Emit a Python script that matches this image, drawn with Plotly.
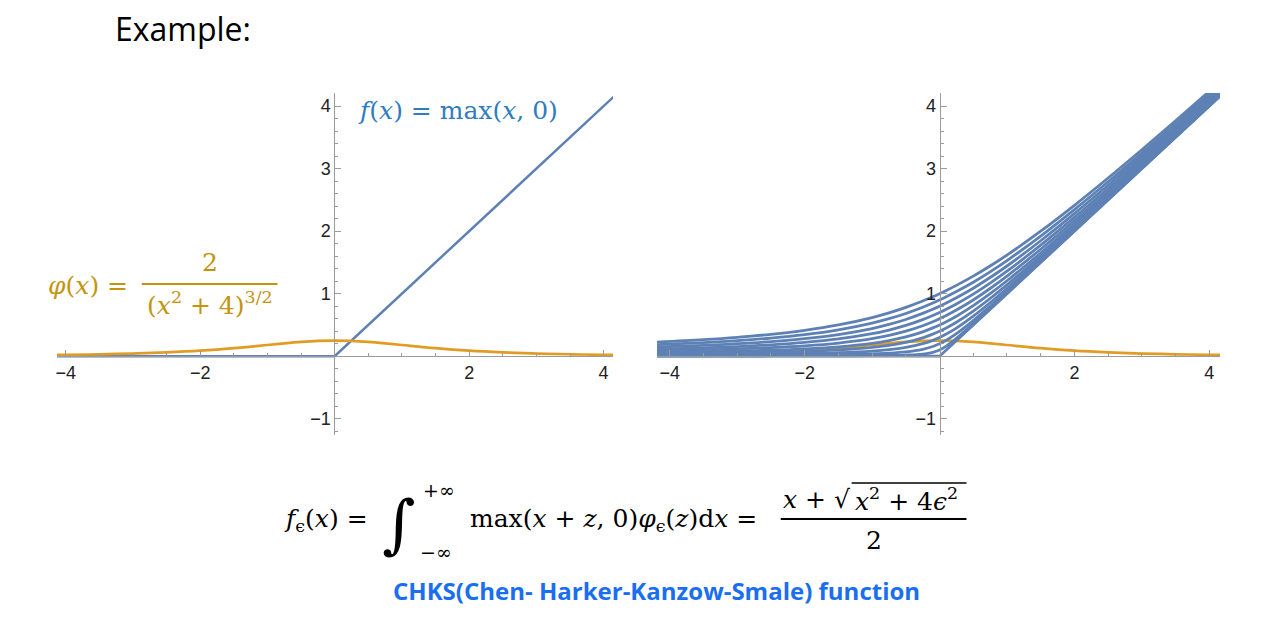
import plotly.graph_objects as go

W, H = 1274, 620

# ---------------- data ----------------
# left panel: ramp f(x)=max(x,0)
ramp_x = [-4.2, 0.0, 4.2]
ramp_y = [0.0, 0.0, 4.2]

# density phi(x) = 2/(x^2+4)^(3/2)
phi_x = [-4.2, -4.0, -3.5, -3.0, -2.5, -2.0, -1.5, -1.0, -0.75, -0.5, -0.25, 0.0,
         0.25, 0.5, 0.75, 1.0, 1.5, 2.0, 2.5, 3.0, 3.5, 4.0, 4.2]
phi_y = [0.020, 0.022, 0.031, 0.043, 0.061, 0.088, 0.128, 0.179, 0.205, 0.228, 0.244, 0.250,
         0.244, 0.228, 0.205, 0.179, 0.128, 0.088, 0.061, 0.043, 0.031, 0.022, 0.020]

# right panel: CHKS smoothings f_eps(x) for eps = 0, 0.1, ..., 1.0
chks_x = [-4.2, -3.5, -3.0, -2.5, -2.0, -1.5, -1.0, -0.75, -0.5, -0.25, -0.1, 0.0,
          0.1, 0.25, 0.5, 0.75, 1.0, 1.5, 2.0, 2.5, 3.0, 3.5, 4.2]
chks_eps00 = [0, 0, 0, 0, 0, 0, 0, 0, 0, 0, 0, 0,
              0.1, 0.25, 0.5, 0.75, 1.0, 1.5, 2.0, 2.5, 3.0, 3.5, 4.2]
chks_eps01 = [0.002, 0.003, 0.003, 0.004, 0.005, 0.007, 0.010, 0.013, 0.019, 0.035, 0.062, 0.100,
              0.162, 0.285, 0.519, 0.763, 1.010, 1.507, 2.005, 2.504, 3.003, 3.503, 4.202]
chks_eps02 = [0.010, 0.011, 0.013, 0.016, 0.020, 0.026, 0.039, 0.050, 0.070, 0.111, 0.156, 0.200,
              0.256, 0.361, 0.570, 0.800, 1.039, 1.526, 2.020, 2.516, 3.013, 3.511, 4.210]
chks_eps03 = [0.021, 0.026, 0.030, 0.036, 0.044, 0.058, 0.083, 0.105, 0.141, 0.200, 0.254, 0.300,
              0.354, 0.450, 0.641, 0.855, 1.083, 1.558, 2.044, 2.536, 3.030, 3.526, 4.221]
chks_eps04 = [0.038, 0.045, 0.052, 0.062, 0.077, 0.100, 0.140, 0.173, 0.222, 0.294, 0.353, 0.400,
              0.453, 0.544, 0.722, 0.923, 1.140, 1.600, 2.077, 2.562, 3.052, 3.545, 4.238]
chks_eps05 = [0.059, 0.070, 0.081, 0.096, 0.118, 0.151, 0.207, 0.250, 0.309, 0.390, 0.453, 0.500,
              0.553, 0.640, 0.809, 1.000, 1.207, 1.651, 2.118, 2.596, 3.081, 3.570, 4.259]
chks_eps06 = [0.084, 0.100, 0.116, 0.137, 0.166, 0.211, 0.281, 0.333, 0.400, 0.488, 0.552, 0.600,
              0.652, 0.738, 0.900, 1.083, 1.281, 1.711, 2.166, 2.637, 3.116, 3.600, 4.284]
chks_eps07 = [0.114, 0.135, 0.155, 0.183, 0.221, 0.276, 0.360, 0.419, 0.493, 0.586, 0.652, 0.700,
              0.752, 0.836, 0.993, 1.169, 1.360, 1.776, 2.221, 2.683, 3.155, 3.635, 4.314]
chks_eps08 = [0.147, 0.174, 0.200, 0.234, 0.281, 0.347, 0.443, 0.509, 0.588, 0.685, 0.752, 0.800,
              0.852, 0.935, 1.088, 1.259, 1.443, 1.847, 2.281, 2.734, 3.200, 3.674, 4.347]
chks_eps09 = [0.185, 0.218, 0.249, 0.290, 0.345, 0.422, 0.530, 0.600, 0.684, 0.784, 0.851, 0.900,
              0.951, 1.034, 1.184, 1.350, 1.530, 1.922, 2.345, 2.790, 3.249, 3.718, 4.385]
chks_eps10 = [0.226, 0.266, 0.303, 0.351, 0.414, 0.500, 0.618, 0.693, 0.781, 0.883, 0.951, 1.000,
              1.051, 1.133, 1.281, 1.443, 1.618, 2.000, 2.414, 2.851, 3.303, 3.766, 4.426]
chks_curves = [chks_eps00, chks_eps01, chks_eps02, chks_eps03, chks_eps04, chks_eps05,
               chks_eps06, chks_eps07, chks_eps08, chks_eps09, chks_eps10]

x_tick_vals = [-4, -2, 2, 4]
x_tick_text = ["\u22124", "\u22122", "2", "4"]
y_tick_vals = [-1, 1, 2, 3, 4]
y_tick_text = ["\u22121", "1", "2", "3", "4"]

# ---------------- styling ----------------
BLUE = "#5e81b5"
ORANGE = "#e19c24"
AXIS = "#9b9b9b"
TICKFONT = dict(family="Liberation Sans, Arial, sans-serif", size=18, color="#222222")
SERIF = "DejaVu Serif, serif"


def px(x):
    return x / W


def py(y):
    return 1 - y / H


fig = go.Figure()

# left panel
fig.add_trace(go.Scatter(x=ramp_x, y=ramp_y, mode="lines", line=dict(color=BLUE, width=2.5),
                         xaxis="x", yaxis="y", hoverinfo="skip"))
fig.add_trace(go.Scatter(x=phi_x, y=phi_y, mode="lines", line=dict(color=ORANGE, width=2.7, shape="spline"),
                         xaxis="x", yaxis="y", hoverinfo="skip"))

# right panel
fig.add_trace(go.Scatter(x=phi_x, y=phi_y, mode="lines", line=dict(color=ORANGE, width=2.7, shape="spline"),
                         xaxis="x2", yaxis="y2", hoverinfo="skip"))
for i, c in enumerate(chks_curves):
    fig.add_trace(go.Scatter(x=chks_x, y=c, mode="lines",
                             line=dict(color=BLUE, width=2.8, shape="linear" if i == 0 else "spline"),
                             xaxis="x2", yaxis="y2", hoverinfo="skip"))

y_minor = [v / 10 for v in range(-12, 43, 2) if v % 10 != 0]
x_minor = [v / 2 for v in range(-8, 9) if v % 4 != 0]


def xaxis(domain, rng, zero_px):
    return dict(domain=domain, range=rng, anchor="free", position=py(zero_px),
                showgrid=False, zeroline=False, showline=True, linecolor=AXIS, linewidth=1,
                tickmode="array", tickvals=x_tick_vals, ticktext=x_tick_text,
                ticks="inside", ticklen=6, tickcolor=AXIS, tickwidth=1, tickfont=TICKFONT,
                minor=dict(tickmode="array", tickvals=x_minor, ticks="inside", ticklen=3,
                           tickcolor=AXIS, tickwidth=1),
                fixedrange=True)


def yaxis(domain, rng, zero_px):
    return dict(domain=domain, range=rng, anchor="free", position=px(zero_px),
                showgrid=False, zeroline=False, showline=True, linecolor=AXIS, linewidth=1,
                tickmode="array", tickvals=y_tick_vals, ticktext=y_tick_text,
                ticks="inside", ticklen=6, tickcolor=AXIS, tickwidth=1, tickfont=TICKFONT,
                minor=dict(tickmode="array", tickvals=y_minor, ticks="inside", ticklen=3,
                           tickcolor=AXIS, tickwidth=1),
                fixedrange=True)


ydom = [py(435), py(93)]
yrng = [-1.26, 4.21]

annotations = []


def ann(text, x, y, size, color="#000000", family=SERIF, xanchor="left", yanchor="middle"):
    annotations.append(dict(text=text, x=px(x), y=py(y), xref="paper", yref="paper",
                            showarrow=False, xanchor=xanchor, yanchor=yanchor,
                            font=dict(family=family, size=size, color=color)))


FBLUE = "#2f7cc0"
GOLD = "#c4940f"

ann("Example:", 111, 28, 32, family="Open Sans, Noto Sans, sans-serif")
ann("<i>f</i>(<i>x</i>) = max(<i>x</i>, 0)", 355, 110, 25, color=FBLUE)
ann("<i>φ</i>(<i>x</i>) =", 44, 285, 25, color=GOLD)
ann("2", 208, 262, 25, color=GOLD, xanchor="center")
ann("(<i>x</i><sup>2</sup> + 4)<sup>3/2</sup>", 208, 304, 25, color=GOLD, xanchor="center")

ann("<i>f</i><sub>ϵ</sub>(<i>x</i>) =", 280, 520, 25)
ann("∫", 397, 524, 64, xanchor="center")
ann("+∞", 420, 490, 19)
ann("−∞", 417, 552, 19)
ann("max(<i>x</i> + <i>z</i>, 0)<i>φ</i><sub>ϵ</sub>(<i>z</i>)d<i>x</i> =", 467, 520, 25)
ann("<i>x</i> + √", 780, 500, 25)
ann("<i>x</i><sup>2</sup> + 4<i>ϵ</i><sup>2</sup>", 852, 500, 25)
ann("2", 873, 540, 25, xanchor="center")

ann("<b>CHKS(Chen- Harker-Kanzow-Smale) function</b>", 656, 590, 24, color="#1a6ef0",
    family="Open Sans, Noto Sans, sans-serif", xanchor="center")

shapes = [
    dict(type="line", xref="paper", yref="paper", x0=px(140), x1=px(276), y0=py(284), y1=py(284),
         line=dict(color=GOLD, width=2)),
    dict(type="line", xref="paper", yref="paper", x0=px(780), x1=px(966), y0=py(519), y1=py(519),
         line=dict(color="#000000", width=1.8)),
    dict(type="line", xref="paper", yref="paper", x0=px(851), x1=px(966), y0=py(483), y1=py(483),
         line=dict(color="#000000", width=1.3)),
]

fig.update_layout(
    width=W, height=H,
    margin=dict(l=0, r=0, t=0, b=0),
    paper_bgcolor="white", plot_bgcolor="white",
    showlegend=False,
    xaxis=xaxis([px(55), px(612)], [-4.13, 4.14], 356),
    yaxis=yaxis(ydom, yrng, 333),
    xaxis2=xaxis([px(656), px(1220)], [-4.19, 4.16], 356),
    yaxis2=yaxis(ydom, yrng, 939),
    annotations=annotations,
    shapes=shapes,
)

fig.write_html("out.html")
